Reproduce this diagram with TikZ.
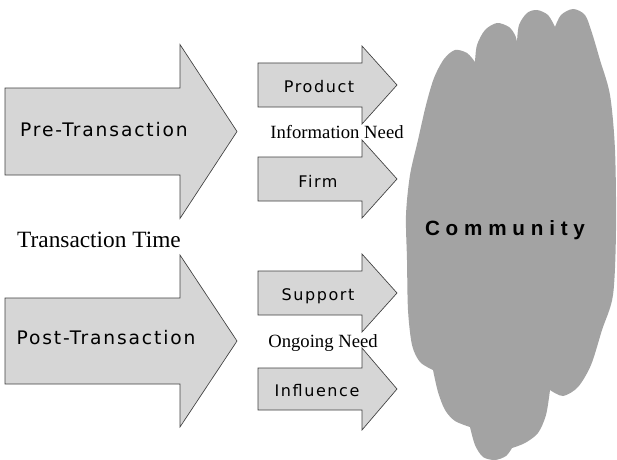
\documentclass[tikz,border=0pt]{standalone}
\usepackage{fontspec}
\setmainfont{Liberation Serif}
\newfontfamily\arrowfont[LetterSpace=10]{DejaVu Sans}
\newfontfamily\cloudfont[LetterSpace=28]{Liberation Sans}

% left x, middle y, head base x, tip x, half shaft, half head
\newcommand{\fatarrow}[6]{%
  \draw[arrowbody] ({#1},{#2-#5}) -- ({#3},{#2-#5}) -- ({#3},{#2-#6}) -- ({#4},{#2})
    -- ({#3},{#2+#6}) -- ({#3},{#2+#5}) -- ({#1},{#2+#5}) -- cycle;}

\begin{document}
\begin{tikzpicture}[x=0.75pt, y=-0.75pt,
  arrowbody/.style={draw=black!75, fill=black!16, line width=0.5pt},
  cloudbody/.style={fill=black!36},
  bigtext/.style={font=\arrowfont\fontsize{14}{16}\selectfont},
  smalltext/.style={font=\arrowfont\fontsize{12}{14}\selectfont},
  needtext/.style={font=\fontsize{14}{16}\selectfont}]
\useasboundingbox (0,0) rectangle (617,460);

\fatarrow{5}{131.5}{180}{237}{43.5}{87}
\fatarrow{5}{341}{180}{237}{43}{86}

\fatarrow{258}{85}{362}{397}{22}{39}
\fatarrow{258}{179}{362}{397}{22}{39}
\fatarrow{258}{293}{362}{397}{22}{39}
\fatarrow{258}{389}{362}{397}{21}{41}

% cloud, lobe by lobe
\fill[cloudbody]
  plot[smooth] coordinates {(475,62) (477,45) (485,30) (497,23) (509,27) (515,35) (517,42)}
  -- plot[smooth] coordinates {(517,42) (519,25) (527,13) (537,10) (548,15) (555,27)}
  -- plot[smooth] coordinates {(555,27) (561,15) (573,9) (585,15) (592,33) (600,60)
       (610,95) (615,150) (616,230) (613,295) (602,330) (591,365) (578,387) (563,396)
       (550,390)}
  -- plot[smooth] coordinates {(550,390) (546,415) (538,433) (525,443) (512,448)}
  -- plot[smooth] coordinates {(512,448) (506,456) (495,460) (483,457) (475,445) (470,427)}
  -- plot[smooth] coordinates {(470,427) (455,421) (445,410) (438,392) (433,370)}
  -- plot[smooth] coordinates {(433,370) (420,362) (412,345) (408,310) (407,260)
       (406,215) (410,175) (418,140) (426,105) (434,78) (444,59) (455,50) (467,53) (475,62)}
  -- cycle;

\node[bigtext] (pre) at (104,130) {Pre-Transaction};
\node[bigtext] (post) at (106,338) {Post-Transaction};
\node[font=\fontsize{17.5}{20}\selectfont] (time) at (99,240) {Transaction Time};

\node[smalltext] (product) at (319,87) {Product};
\node[smalltext] (firm) at (318,181) {Firm};
\node[needtext] (info) at (337,132) {Information Need};
\node[smalltext] (support) at (318,296) {Support};
\node[needtext] (ongoing) at (323,343) {Ongoing Need};
\node[smalltext] (influence) at (317,391) {Influence};

\node[font=\cloudfont\bfseries\fontsize{15.5}{18}\selectfont] (community) at (505,230) {Community};
\end{tikzpicture}
\end{document}
